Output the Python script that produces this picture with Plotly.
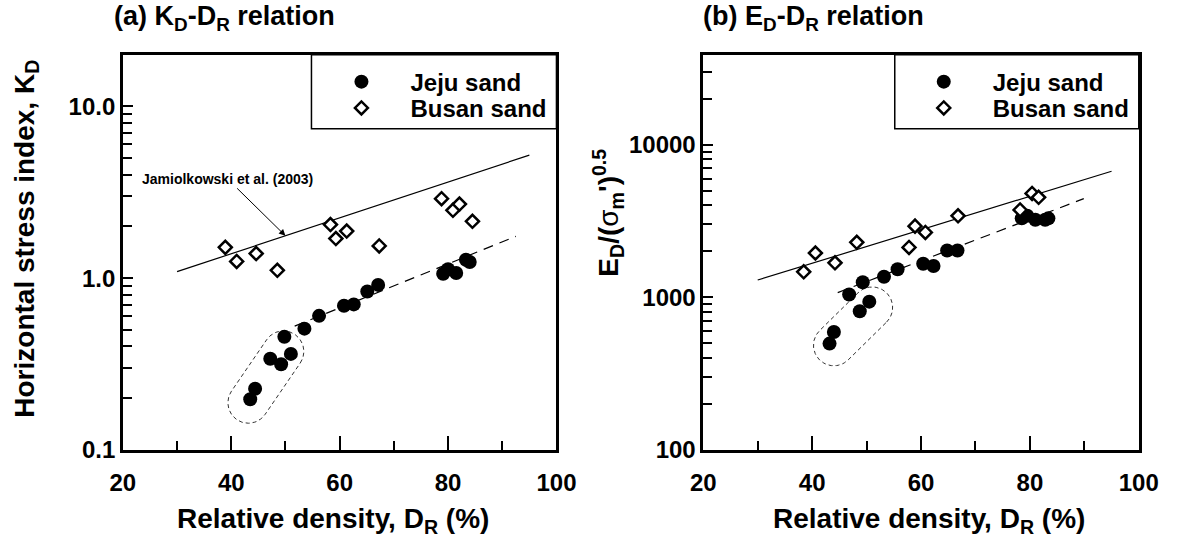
import numpy as np
import plotly.graph_objects as go

# ---------------- Panel (a): K_D vs relative density ----------------
jeju_dr_a = [43.5, 44.4, 47.2, 49.2, 49.8, 51.0, 53.5, 56.2, 60.8, 62.6, 65.1, 67.1,
             79.1, 80.0, 81.5, 83.3, 84.0]
jeju_kd = [0.197, 0.227, 0.339, 0.315, 0.456, 0.362, 0.508, 0.603, 0.69, 0.703, 0.836, 0.913,
           1.06, 1.125, 1.07, 1.28, 1.24]
busan_dr_a = [38.9, 41.0, 44.6, 48.5, 58.3, 59.3, 61.3, 67.3, 78.8, 80.9, 82.1, 84.5]
busan_kd = [1.51, 1.25, 1.39, 1.11, 2.05, 1.70, 1.88, 1.54, 2.90, 2.48, 2.70, 2.14]

jamiol_dr = [30, 95]
jamiol_kd = [1.09, 5.2]
fit_a_dr = [51.7, 92.5]
fit_a_kd = [0.525, 1.75]
loose_a = [0, 1, 2, 3, 4, 5]          # Jeju tests enclosed by the dashed outline

# ---------------- Panel (b): E_D/(sigma_m')^0.5 vs relative density ----------------
jeju_dr_b = [43.2, 44.0, 46.8, 48.75, 49.3, 50.5, 53.2, 55.7, 60.4, 62.3, 64.8, 66.7,
             78.5, 79.5, 81.0, 82.8, 83.4]
jeju_ed = [497, 592, 1042, 809, 1255, 936, 1364, 1525, 1659, 1603, 2027, 2027,
           3290, 3420, 3222, 3222, 3290]
busan_dr_b = [38.45, 40.6, 44.2, 48.2, 57.8, 58.9, 60.8, 66.8, 78.2, 80.4, 81.6]
busan_ed = [1468, 1950, 1683, 2290, 2120, 2925, 2660, 3420, 3735, 4790, 4520]

upper_b_dr = [30, 95]
upper_b_ed = [1297, 6700]
fit_b_dr = [44.7, 89.9]
fit_b_ed = [1073, 4430]
loose_b = [0, 1, 3, 5]

x_ticks = [20, 40, 60, 80, 100]
x_minor = [30, 50, 70, 90]
kd_ticks = [0.1, 1, 10]
kd_ticktext = ["0.1", "1.0", "10.0"]
ed_ticks = [100, 1000, 10000]
ed_ticktext = ["100", "1000", "10000"]

# ---------------- geometry ----------------
W, H = 1186, 538
top_px, bot_px = 56, 461
a_left, a_right = 113, 559
b_left, b_right = 710, 1158
x_range = [20, 100]
kd_log = [-1, np.log10(20)]
ed_log = [2, 4.59]


def outline(dr, val, idx, log_rng, w_px, h_px, radius_px, end_lo, end_hi, shift_px=0.0, n=40):
    """Rounded (stadium-shaped) outline around a group of points, built in
    screen-proportional space so it stays round on the log axis."""
    dr = np.asarray(dr, float)[idx]
    lv = np.log10(np.asarray(val, float)[idx])
    u = (dr - x_range[0]) / (x_range[1] - x_range[0]) * w_px
    v = (lv - log_rng[0]) / (log_rng[1] - log_rng[0]) * h_px
    P = np.column_stack([u, v])
    c = P.mean(axis=0)
    _, vecs = np.linalg.eigh(np.cov((P - c).T))
    d = vecs[:, -1]
    if d[0] < 0:
        d = -d
    nrm = np.array([-d[1], d[0]])
    t = (P - c) @ d
    s = (P - c) @ nrm
    c = c + nrm * ((s.max() + s.min()) / 2 + shift_px)
    a = t.min() - end_lo + radius_px
    b = t.max() + end_hi - radius_px
    ang1 = np.linspace(-np.pi / 2, np.pi / 2, n)
    ang2 = np.linspace(np.pi / 2, 3 * np.pi / 2, n)
    pb = c + np.outer(b + radius_px * np.cos(ang1), d) + np.outer(radius_px * np.sin(ang1), nrm)
    pa = c + np.outer(a + radius_px * np.cos(ang2), d) + np.outer(radius_px * np.sin(ang2), nrm)
    pts = np.vstack([pb, pa, pb[:1]])
    xs = x_range[0] + pts[:, 0] / w_px * (x_range[1] - x_range[0])
    ys = 10 ** (log_rng[0] + pts[:, 1] / h_px * (log_rng[1] - log_rng[0]))
    return xs, ys


fig = go.Figure()

circle = dict(symbol="circle", size=14, color="black")
diamond = dict(symbol="diamond", size=10, color="white", line=dict(color="black", width=2.5))

# ---- panel (a)
fig.add_trace(go.Scatter(x=jamiol_dr, y=jamiol_kd, mode="lines", line=dict(color="black", width=1.2),
                         showlegend=False, xaxis="x", yaxis="y"))
fig.add_trace(go.Scatter(x=fit_a_dr, y=fit_a_kd, mode="lines",
                         line=dict(color="black", width=1.2, dash="10px,7px"),
                         showlegend=False, xaxis="x", yaxis="y"))
ox, oy = outline(jeju_dr_a, jeju_kd, loose_a, kd_log, a_right - a_left, bot_px - top_px, 21, 25, 8)
fig.add_trace(go.Scatter(x=ox, y=oy, mode="lines", line=dict(color="#333", width=1, dash="4px,3px"),
                         showlegend=False, xaxis="x", yaxis="y"))
fig.add_trace(go.Scatter(x=jeju_dr_a, y=jeju_kd, mode="markers", marker=circle, name="Jeju sand",
                         legend="legend", xaxis="x", yaxis="y"))
fig.add_trace(go.Scatter(x=busan_dr_a, y=busan_kd, mode="markers", marker=diamond, name="Busan sand",
                         legend="legend2", xaxis="x", yaxis="y"))

# ---- panel (b)
fig.add_trace(go.Scatter(x=upper_b_dr, y=upper_b_ed, mode="lines", line=dict(color="black", width=1.2),
                         showlegend=False, xaxis="x2", yaxis="y2"))
fig.add_trace(go.Scatter(x=fit_b_dr, y=fit_b_ed, mode="lines",
                         line=dict(color="black", width=1.2, dash="10px,7px"),
                         showlegend=False, xaxis="x2", yaxis="y2"))
ox, oy = outline(jeju_dr_b, jeju_ed, loose_b, ed_log, b_right - b_left, bot_px - top_px, 21, 19, 19, -7)
fig.add_trace(go.Scatter(x=ox, y=oy, mode="lines", line=dict(color="#333", width=1, dash="4px,3px"),
                         showlegend=False, xaxis="x2", yaxis="y2"))
fig.add_trace(go.Scatter(x=jeju_dr_b, y=jeju_ed, mode="markers", marker=circle, name="Jeju sand",
                         legend="legend3", xaxis="x2", yaxis="y2"))
fig.add_trace(go.Scatter(x=busan_dr_b, y=busan_ed, mode="markers", marker=diamond, name="Busan sand",
                         legend="legend4", xaxis="x2", yaxis="y2"))

y_dom = [1 - bot_px / H, 1 - top_px / H]
frame = dict(showline=True, linecolor="black", linewidth=2.5, mirror=True, showgrid=False,
             zeroline=False, ticks="inside", tickcolor="black", tickwidth=2)
tick_font = dict(size=24)


def xaxis(dom, anchor):
    return dict(frame, domain=dom, anchor=anchor, range=x_range, tickvals=x_ticks, ticklen=14,
                ticklabelstandoff=10, tickfont=tick_font,
                minor=dict(tickvals=x_minor, ticks="inside", ticklen=9, tickwidth=2, tickcolor="black"))


def minor_log(lo_exp, hi_val):
    return [k * 10 ** e for e in range(lo_exp, 6) for k in range(2, 10) if k * 10 ** e < hi_val]


def legend_at(x_px, y_px):
    return dict(x=x_px / W, xanchor="left", y=1 - y_px / H, yanchor="top", bgcolor="rgba(0,0,0,0)",
                borderwidth=0, itemwidth=88, font=dict(size=24))


def label(text, x_px, y_px, size, angle=0, anchor="center"):
    return dict(text=text, xref="paper", yref="paper", x=x_px / W, y=1 - y_px / H,
                xanchor=anchor, yanchor="middle", showarrow=False, textangle=angle,
                font=dict(size=size))


fig.update_layout(
    width=W, height=H,
    margin=dict(l=0, r=0, t=0, b=0),
    paper_bgcolor="white", plot_bgcolor="white",
    font=dict(family="Liberation Sans, Arial, sans-serif", color="black", size=22, weight="bold"),
    xaxis=xaxis([a_left / W, a_right / W], "y"),
    xaxis2=xaxis([b_left / W, b_right / W], "y2"),
    yaxis=dict(frame, domain=y_dom, anchor="x", type="log", range=kd_log, tickvals=kd_ticks,
               ticktext=kd_ticktext, ticklen=10, tickfont=tick_font,
               minor=dict(tickvals=minor_log(-1, 10), ticks="inside", ticklen=9, tickwidth=2,
                          tickcolor="black")),
    yaxis2=dict(frame, domain=y_dom, anchor="x2", type="log", range=ed_log, tickvals=ed_ticks,
                ticktext=ed_ticktext, ticklen=10, tickfont=tick_font,
                minor=dict(tickvals=minor_log(2, 10 ** ed_log[1]), ticks="inside", ticklen=9, tickwidth=2,
                           tickcolor="black")),
    legend=legend_at(308, 61),
    legend2=legend_at(308, 88),
    legend3=legend_at(907, 61),
    legend4=legend_at(907, 88),
    shapes=[
        dict(type="rect", xref="paper", yref="paper", x0=307 / W, x1=a_right / W, y0=1 - 132 / H,
             y1=1 - top_px / H, line=dict(color="black", width=1.5), fillcolor="white", layer="below"),
        dict(type="rect", xref="paper", yref="paper", x0=907 / W, x1=b_right / W, y0=1 - 132 / H,
             y1=1 - top_px / H, line=dict(color="black", width=1.5), fillcolor="white", layer="below"),
    ],
    annotations=[
        label("(a) K<sub>D</sub>-D<sub>R</sub> relation", 102, 18, 27, anchor="left"),
        label("(b) E<sub>D</sub>-D<sub>R</sub> relation", 708, 18, 27, anchor="left"),
        label("Relative density, D<sub>R</sub> (%)", 329, 533, 28),
        label("Relative density, D<sub>R</sub> (%)", 942, 533, 28),
        label("Horizontal stress index, K<sub>D</sub>", 13, 245, 28, angle=-90),
        label("E<sub>D</sub>/(<span style='font-weight:normal'>σ</span><sub>m</sub>')<sup>0.5</sup>",
              612, 218, 28, angle=-90),
        dict(text="Jamiolkowski et al. (2003)", xref="x", yref="y", x=50,
             y=float(np.interp(50, jamiol_dr, np.log10(jamiol_kd))),
             ax=-58, ay=-57, showarrow=True, arrowhead=2, arrowsize=1.3, arrowwidth=1,
             arrowcolor="black", font=dict(size=14)),
    ],
)

fig.write_html("out.html")
